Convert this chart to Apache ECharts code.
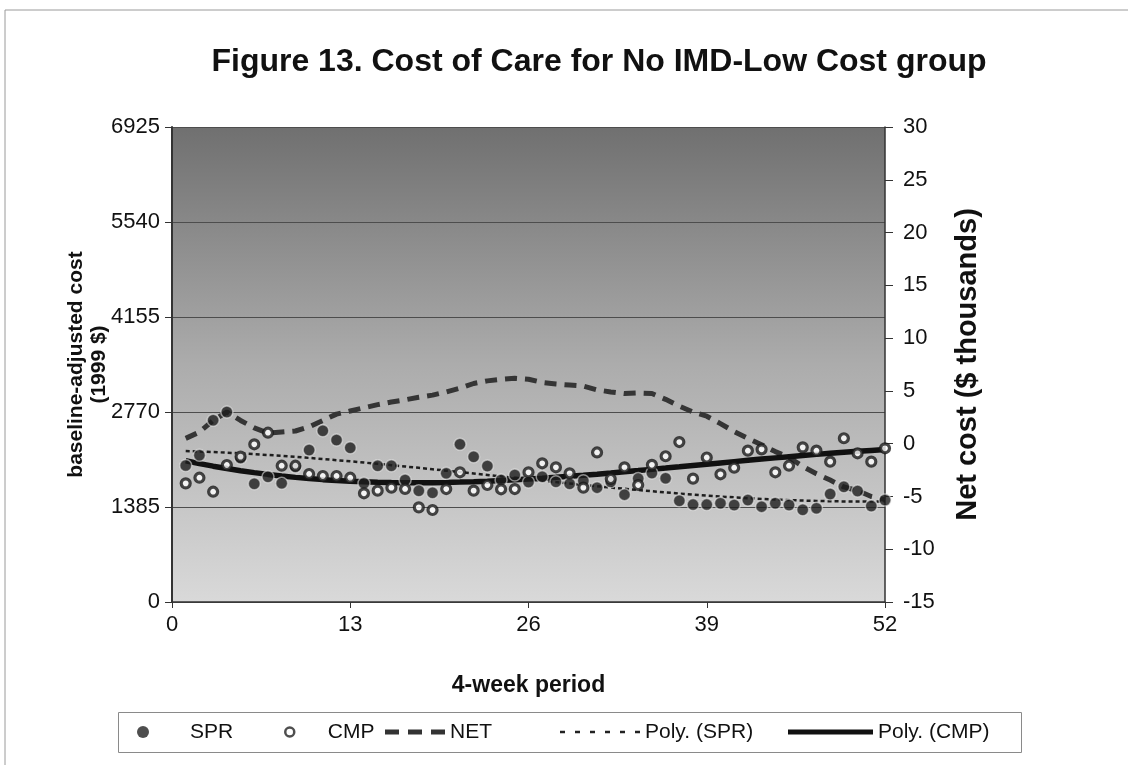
<!DOCTYPE html>
<html>
<head>
<meta charset="utf-8">
<title>Figure 13. Cost of Care for No IMD-Low Cost group</title>
<script src="https://cdn.jsdelivr.net/npm/echarts@6/dist/echarts.min.js"></script>
<style>
  html, body { margin: 0; padding: 0; background: #ffffff; }
  #chart { width: 1128px; height: 765px; }
</style>
</head>
<body>
<div id="chart"></div>
<script>
// 4-week periods
const periods = [1, 2, 3, 4, 5, 6, 7, 8, 9, 10, 11, 12, 13, 14, 15, 16, 17, 18, 19, 20,
  21, 22, 23, 24, 25, 26, 27, 28, 29, 30, 31, 32, 33, 34, 35, 36, 37, 38, 39, 40,
  41, 42, 43, 44, 45, 46, 47, 48, 49, 50, 51, 52];

// Baseline-adjusted cost per period (1999 $), SPR group
const sprCost = [1990, 2140, 2650, 2770, 2100, 1725, 1827, 1730, 1970, 2216,
  2497, 2362, 2250, 1730, 1987, 1987, 1779, 1623, 1594, 1876,
  2299, 2118, 1983, 1780, 1852, 1750, 1827, 1754, 1725, 1769,
  1667, 1754, 1565, 1800, 1880, 1803, 1475, 1420, 1420, 1439,
  1414, 1487, 1390, 1439, 1414, 1345, 1366, 1575, 1681, 1618,
  1400, 1487];

// Baseline-adjusted cost per period (1999 $), CMP group
const cmpCost = [1730, 1812, 1608, 1997, 2119, 2299, 2468, 1987, 1987, 1866,
  1837, 1837, 1812, 1585, 1623, 1667, 1648, 1380, 1341, 1647,
  1891, 1623, 1706, 1643, 1647, 1891, 2022, 1964, 1876, 1667,
  2180, 1793, 1964, 1706, 2000, 2125, 2332, 1798, 2107, 1862,
  1958, 2206, 2226, 1891, 1987, 2255, 2206, 2046, 2387, 2168,
  2046, 2241];

// Net cost ($ thousands)
const netCost = [0.5, 1.1, 2.2, 3.0, 2.2, 1.5, 1.0, 1.1, 1.2, 1.6,
  2.2, 2.8, 3.1, 3.4, 3.7, 3.95, 4.15, 4.4, 4.6, 4.9,
  5.25, 5.7, 5.95, 6.1, 6.2, 6.1, 5.8, 5.65, 5.55, 5.45,
  5.1, 4.9, 4.75, 4.8, 4.75, 4.2, 3.55, 3.0, 2.6, 1.9,
  1.15, 0.5, -0.1, -0.75, -1.3, -2.15, -2.85, -3.45, -4.1, -4.45,
  -5.0, -5.3];

// Axis ranges and tick steps
const costTicks = [0, 1385, 2770, 4155, 5540, 6925];
const netTicks = [-15, -10, -5, 0, 5, 10, 15, 20, 25, 30];
const periodTicks = [0, 13, 26, 39, 52];

// Least-squares polynomial trendline (a spreadsheet-style "Poly." trendline)
function polyFit(xs, ys, order) {
  const n = order + 1;
  const A = [];
  for (let i = 0; i < n; i++) {
    const row = [];
    for (let j = 0; j < n; j++) {
      let s = 0;
      for (let k = 0; k < xs.length; k++) s += Math.pow(xs[k], i + j);
      row.push(s);
    }
    let b = 0;
    for (let k = 0; k < xs.length; k++) b += ys[k] * Math.pow(xs[k], i);
    row.push(b);
    A.push(row);
  }
  for (let c = 0; c < n; c++) {
    let p = c;
    for (let r = c + 1; r < n; r++) if (Math.abs(A[r][c]) > Math.abs(A[p][c])) p = r;
    [A[c], A[p]] = [A[p], A[c]];
    for (let r = 0; r < n; r++) {
      if (r === c) continue;
      const f = A[r][c] / A[c][c];
      for (let j = c; j <= n; j++) A[r][j] -= f * A[c][j];
    }
  }
  return A.map((row, i) => row[n] / row[i]);
}
function trendline(xs, ys, order) {
  const coef = polyFit(xs, ys, order);
  return xs.map(x => [x, coef.reduce((s, c, i) => s + c * Math.pow(x, i), 0)]);
}

const pairs = (xs, ys) => xs.map((x, i) => [x, ys[i]]);

const FONT = 'Liberation Sans, Arial, sans-serif';
const INK = '#111111';

// Legend swatches: dashes, dots and solid bar drawn as paths
const ICON_NET = 'path://M0,0h14v5h-14z M23,0h14v5h-14z M46,0h14v5h-14z';
const ICON_POLY_SPR = 'path://M0,0h5v2.5h-5z M15,0h5v2.5h-5z M30,0h5v2.5h-5z M45,0h5v2.5h-5z M60,0h5v2.5h-5z M75,0h5v2.5h-5z';
const ICON_POLY_CMP = 'path://M0,0h85v5h-85z';

// One legend component per entry so each sits at its own spot in the frame
function legendEntry(name, left, width, height, icon, itemStyle) {
  return {
    left: left, top: 720,
    padding: 0,
    itemWidth: width, itemHeight: height,
    selectedMode: false,
    textStyle: { fontFamily: FONT, fontSize: 21, color: INK, lineHeight: 24 },
    data: [{ name: name, icon: icon, itemStyle: itemStyle }]
  };
}

const chart = echarts.init(document.getElementById('chart'), null, { renderer: 'canvas' });

chart.setOption({
  backgroundColor: '#ffffff',
  animation: false,
  title: {
    text: 'Figure 13. Cost of Care for No IMD-Low Cost group',
    left: 594,
    top: 41,
    textAlign: 'center',
    textStyle: { fontFamily: FONT, fontSize: 32, fontWeight: 'bold', color: INK }
  },
  graphic: [{
    // outer chart frame
    type: 'rect',
    shape: { x: 5, y: 10, width: 1140, height: 770 },
    style: { fill: 'none', stroke: '#9a9a9a', lineWidth: 1 },
    silent: true
  }, {
    // legend frame
    type: 'rect',
    shape: { x: 118.5, y: 712.5, width: 903, height: 40 },
    style: { fill: '#ffffff', stroke: '#8a8a8a', lineWidth: 1 },
    silent: true,
    z: -1
  }],
  grid: {
    left: 172, right: 243, top: 127, bottom: 163,
    show: true,
    borderWidth: 0,
    backgroundColor: {
      type: 'linear', x: 0, y: 0, x2: 0, y2: 1,
      colorStops: [
        { offset: 0, color: '#707070' },
        { offset: 0.5, color: '#acacac' },
        { offset: 1, color: '#d9d9d9' }
      ]
    }
  },
  legend: [
    legendEntry('SPR', 137, 84, 12, 'circle', { color: '#222', borderWidth: 0 }),
    legendEntry('CMP', 284, 66, 9, 'circle', { color: '#fff', borderColor: '#222', borderWidth: 2.5 }),
    legendEntry('NET', 385, 60, 12, ICON_NET, { color: '#333', borderWidth: 0 }),
    legendEntry('Poly. (SPR)', 560, 80, 12, ICON_POLY_SPR, { color: '#222', borderWidth: 0 }),
    legendEntry('Poly. (CMP)', 788, 85, 12, ICON_POLY_CMP, { color: '#111', borderWidth: 0 })
  ],
  xAxis: {
    type: 'value',
    min: periodTicks[0],
    max: periodTicks[periodTicks.length - 1],
    interval: periodTicks[1] - periodTicks[0],
    name: '4-week period',
    nameLocation: 'middle',
    nameGap: 72,
    nameMoveOverlap: false,
    nameTextStyle: { fontFamily: FONT, fontSize: 23, fontWeight: 'bold', color: INK },
    axisLine: { lineStyle: { color: '#333', width: 1.5 } },
    axisTick: { show: true, length: 6, lineStyle: { color: '#333' } },
    axisLabel: { fontFamily: FONT, fontSize: 22, color: INK, margin: 12 },
    splitLine: { show: false }
  },
  yAxis: [{
    type: 'value',
    position: 'left',
    min: costTicks[0],
    max: costTicks[costTicks.length - 1],
    interval: costTicks[1] - costTicks[0],
    name: 'baseline-adjusted cost\n(1999 $)',
    nameLocation: 'middle',
    nameGap: 61,
    nameMoveOverlap: false,
    nameRotate: 90,
    nameTextStyle: { fontFamily: FONT, fontSize: 21, fontWeight: 'bold', color: INK, lineHeight: 23 },
    axisLine: { show: true, lineStyle: { color: '#333', width: 2 } },
    axisTick: { show: true, length: 7, lineStyle: { color: '#333' } },
    axisLabel: { fontFamily: FONT, fontSize: 22, color: INK, margin: 12, formatter: v => String(v) },
    splitLine: { show: true, lineStyle: { color: '#4d4d4d', width: 1.2 } }
  }, {
    type: 'value',
    position: 'right',
    min: netTicks[0],
    max: netTicks[netTicks.length - 1],
    interval: netTicks[1] - netTicks[0],
    name: 'Net cost ($ thousands)',
    nameLocation: 'middle',
    nameGap: 68,
    nameMoveOverlap: false,
    nameRotate: 90,
    nameTextStyle: { fontFamily: FONT, fontSize: 29, fontWeight: 'bold', color: INK },
    axisLine: { show: true, lineStyle: { color: '#333', width: 1.5 } },
    axisTick: { show: true, length: 8, lineStyle: { color: '#333' } },
    axisLabel: { fontFamily: FONT, fontSize: 22, color: INK, margin: 18 },
    splitLine: { show: false }
  }],
  series: [{
    name: 'SPR',
    type: 'scatter',
    yAxisIndex: 0,
    symbol: 'circle',
    symbolSize: 12,
    z: 5,
    itemStyle: { color: '#1e1e1e', borderColor: 'rgba(235,235,235,0.7)', borderWidth: 1.5 },
    data: pairs(periods, sprCost)
  }, {
    name: 'CMP',
    type: 'scatter',
    yAxisIndex: 0,
    symbol: 'circle',
    symbolSize: 9,
    z: 5,
    itemStyle: { color: '#ffffff', borderColor: '#1a1a1a', borderWidth: 3.2 },
    data: pairs(periods, cmpCost)
  }, {
    name: 'NET',
    type: 'line',
    yAxisIndex: 1,
    symbol: 'none',
    z: 3,
    itemStyle: { color: '#353535' },
    lineStyle: { color: '#353535', width: 5, type: [12, 8] },
    data: pairs(periods, netCost)
  }, {
    name: 'Poly. (SPR)',
    type: 'line',
    yAxisIndex: 0,
    symbol: 'none',
    z: 4,
    itemStyle: { color: '#1e1e1e' },
    lineStyle: { color: '#1e1e1e', width: 2.5, type: [4, 3] },
    data: trendline(periods, sprCost, 3)
  }, {
    name: 'Poly. (CMP)',
    type: 'line',
    yAxisIndex: 0,
    symbol: 'none',
    z: 4,
    itemStyle: { color: '#111' },
    lineStyle: { color: '#111', width: 5.5 },
    data: trendline(periods, cmpCost, 3)
  }]
});
</script>
</body>
</html>
